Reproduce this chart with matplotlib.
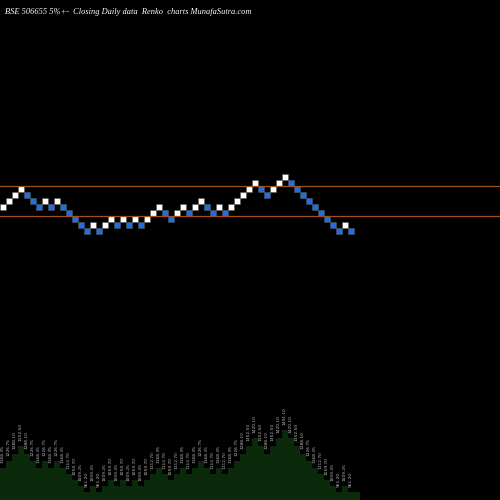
import matplotlib
matplotlib.use("Agg")
import matplotlib.pyplot as plt
from matplotlib.patches import Rectangle

levels = [5,6,7,8,7,6,5,6,5,6,5,4,3,2,1,2,1,2,3,2,3,2,3,2,3,4,5,4,3,4,5,4,5,6,5,4,5,4,5,6,7,8,9,8,7,8,9,10,9,8,7,6,5,4,3,2,1,2,1]
level_prices = [915.00, 961.20, 1009.25, 1059.70, 1112.70, 1168.35, 1226.75, 1288.10, 1352.50, 1420.10, 1491.10]
line_levels = [9, 4]
title = "BSE 506655 5%+-  Closing Daily data  Renko  charts MunafaSutra.com"

prices = [level_prices[l] for l in levels]

fig = plt.figure(figsize=(5, 5), dpi=100, facecolor="black")
ax = fig.add_axes([0, 0, 1, 1], facecolor="black")
ax.set_xlim(0, 500/6)
ax.set_ylim(-260/6, 40)
ax.axis("off")

for y in line_levels:
    ax.axhline(y, color="#a0521c", lw=0.9)

for i, l in enumerate(levels):
    up = i == 0 or l > levels[i-1]
    c = "white" if up else "#1c6fe8"
    ax.add_patch(Rectangle((i + 0.05, l + 0.05), 0.9, 0.9, facecolor=c, edgecolor="#555555", lw=0.4))

ax2 = fig.add_axes([0, 0, 1, 1], facecolor="none")
ax2.axis("off")
ax2.set_xlim(0, 500/6)
k = 62/530
ax2.set_ylim(961.2 - 8/k, 961.2 + 492/k)
xs = list(range(len(prices) + 2))
ax2.fill_between(xs, [prices[0]] + prices + [prices[-1]], ax2.get_ylim()[0], step="pre", color="#0b2a0b", lw=0)
for i, p in enumerate(prices):
    ax2.text(i + 0.5, p + 5/k, f"{p:.2f}", rotation=90, fontsize=3.2, color="#bbbbbb",
             ha="center", va="bottom", family="DejaVu Sans")

fig.text(0.01, 0.985, title, color="white", fontsize=6, family="Liberation Serif",
         style="italic", va="top", ha="left")
fig.savefig("out.png", dpi=100, facecolor="black")
